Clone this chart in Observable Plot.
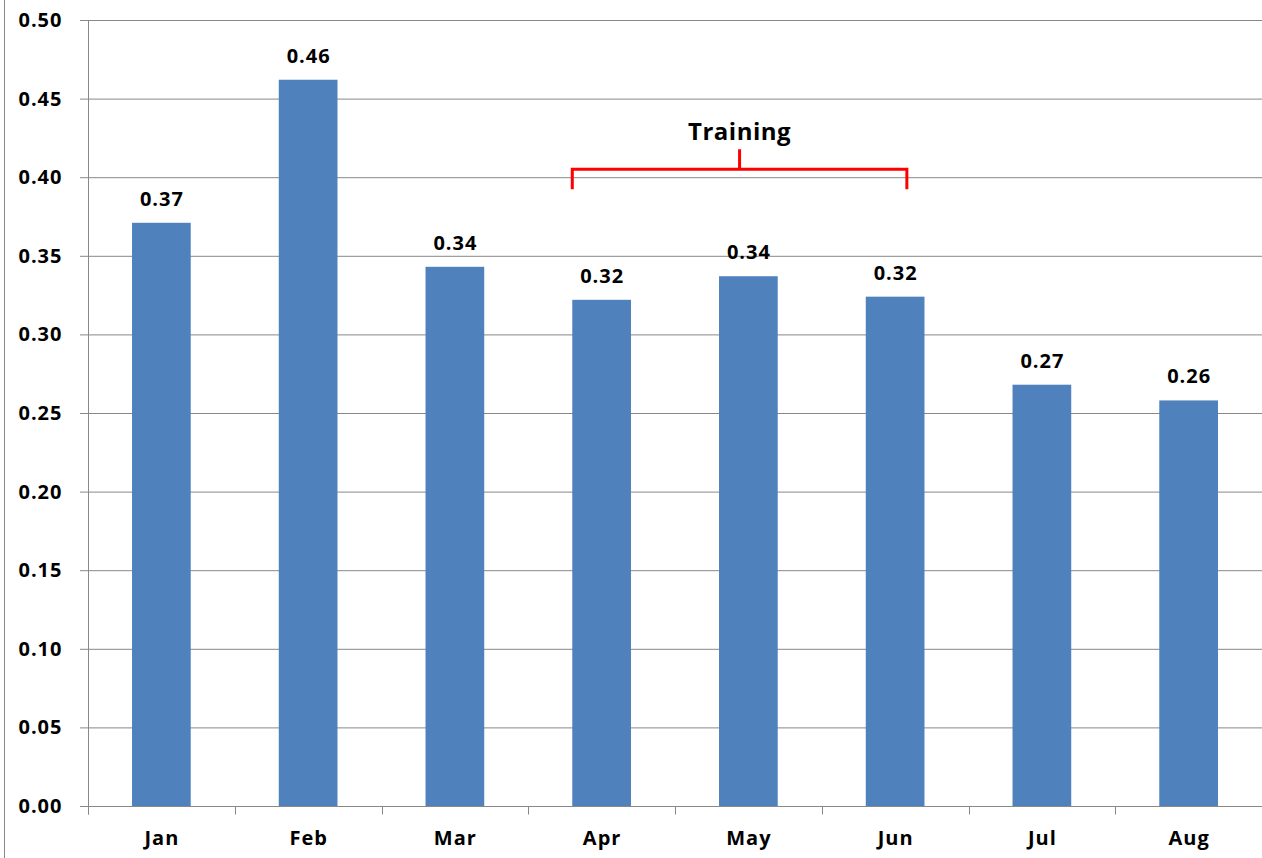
<!DOCTYPE html>
<html>
<head>
<meta charset="utf-8">
<script src="https://cdn.jsdelivr.net/npm/d3@7"></script>
<script src="https://cdn.jsdelivr.net/npm/@observablehq/plot@0.6"></script>
<style>
  html, body { margin: 0; padding: 0; background: #fff; }
  #chart { position: relative; width: 1262px; height: 858px; overflow: hidden; }
  #chart svg text { letter-spacing: 1px; }
</style>
</head>
<body>
<div id="chart"></div>
<script>
const months = ["Jan", "Feb", "Mar", "Apr", "May", "Jun", "Jul", "Aug"];
const values = [0.371, 0.462, 0.343, 0.322, 0.337, 0.324, 0.268, 0.258];
const yTicks = [0, 0.05, 0.10, 0.15, 0.20, 0.25, 0.30, 0.35, 0.40, 0.45, 0.50];
const bracketMonths = ["Apr", "Jun"];
const bracketLevel = [0.405];
const bracketLabel = ["Training"];

const data = months.map((m, i) => ({month: m, value: values[i]}));
const fmt = d3.format(".2f");
const FONT = "'Open Sans', 'Liberation Sans', sans-serif";

function axesLines(index, scales, values, dims) {
  const {x, y} = scales;
  const g = d3.create("svg:g").attr("stroke", "#888").attr("stroke-width", 1);
  const x0 = dims.marginLeft;
  const x1 = dims.width - dims.marginRight;
  const yb = Math.round(y(0)) + 0.5;
  // frame line at far left
  g.append("line").attr("x1", 4.5).attr("x2", 4.5).attr("y1", 0).attr("y2", dims.height);
  // y axis line
  g.append("line").attr("x1", x0 + 0.5).attr("x2", x0 + 0.5).attr("y1", y(0.5)).attr("y2", yb + 8);
  // baseline
  g.append("line").attr("x1", x0).attr("x2", x1).attr("y1", yb).attr("y2", yb);
  // category boundary ticks
  const gap = (x.step() - x.bandwidth()) / 2;
  const bounds = months.map(m => x(m) - gap).concat([x(months[months.length - 1]) + x.bandwidth() + gap]);
  bounds.forEach(b => {
    const bx = Math.round(b) + 0.5;
    g.append("line").attr("x1", bx).attr("x2", bx).attr("y1", yb).attr("y2", yb + 8);
  });
  return g.node();
}

function bracket(index, scales, values, dims) {
  const {x, y} = scales;
  const g = d3.create("svg:g");
  const xa = x(bracketMonths[0]);
  const xb = x(bracketMonths[1]) + x.bandwidth() * 0.7;
  const yl = y(bracketLevel[0]);
  const xm = (xa + xb) / 2;
  g.append("path")
    .attr("d", `M${xa},${yl + 20}V${yl}H${xb}V${yl + 20}M${xm},${yl}V${yl - 20}`)
    .attr("fill", "none").attr("stroke", "#ff0000").attr("stroke-width", 3);
  g.append("text")
    .attr("x", xm).attr("y", yl - 29)
    .attr("text-anchor", "middle")
    .attr("font-family", FONT).attr("font-weight", "bold").attr("font-size", 24)
    .attr("fill", "#000").style("letter-spacing", "0.5px")
    .text(bracketLabel[0]);
  return g.node();
}

const chart = Plot.plot({
  width: 1262,
  height: 858,
  marginLeft: 88,
  marginRight: 0,
  marginTop: 20,
  marginBottom: 52,
  style: {fontFamily: FONT, fontSize: "20px", fontWeight: "bold", color: "#000", background: "#fff"},
  x: {domain: months, paddingInner: 0.6, paddingOuter: 0.3, round: false, label: null},
  y: {domain: [0, 0.5], label: null},
  marks: [
    Plot.gridY(yTicks, {stroke: "#888", strokeOpacity: 1}),
    Plot.axisY(yTicks, {tickFormat: fmt, tickSize: 8, tickPadding: 18, stroke: "#888", fill: "#000", fontSize: 20, fontWeight: "bold", label: null}),
    Plot.axisX({tickSize: 0, tickPadding: 24, fill: "#000", fontSize: 20, fontWeight: "bold", label: null}),
    Plot.barY(data, {x: "month", y: "value", fill: "#4f81bd"}),
    Plot.text(data, {x: "month", y: "value", text: d => fmt(d.value), dy: -24, fontSize: 20, fontWeight: "bold", fill: "#000"}),
    axesLines,
    bracket
  ]
});
document.getElementById("chart").appendChild(chart);
</script>
</body>
</html>
